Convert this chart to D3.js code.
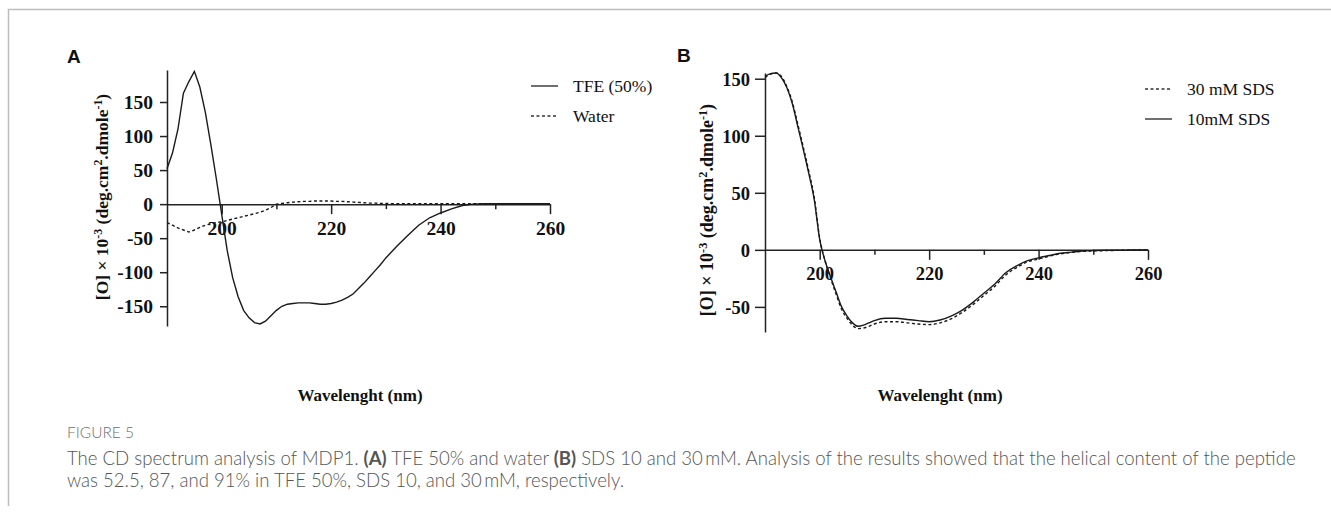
<!DOCTYPE html>
<html>
<head>
<meta charset="utf-8">
<script src="https://cdn.jsdelivr.net/npm/d3@7"></script>
<style>
  body { margin: 0; background: #fff; }
  svg text { fill: #111; }
  .tick text { font-family: "Liberation Serif", "Times New Roman", serif; font-weight: bold; }
  .caption { font-family: Lato, "Open Sans", sans-serif; font-weight: 300; }
</style>
</head>
<body>
<div id="container"></div>
<script>
const WIDTH = 1331,
      HEIGHT = 517;

// panel A : TFE / water
const wlA = [190, 191, 192, 193, 194, 195, 196, 197, 198, 199, 200,
             201, 202, 203, 204, 205, 206, 207, 208, 209, 210,
             211, 212, 213, 214, 215, 216, 217, 218, 219, 220,
             221, 222, 223, 224, 225, 226, 227, 228, 229, 230,
             232, 234, 236, 238, 240, 242, 244, 246, 248, 250, 252, 254, 256, 258, 260];
const tfe = [52, 75, 110, 163, 180, 195, 172, 135, 88, 38, -15,
             -68, -108, -136, -156, -167, -174, -176, -172, -164, -156,
             -150, -147, -146, -145, -145, -145, -146, -147, -147, -146,
             -144, -141, -137, -132, -124, -116, -107, -98, -89, -79,
             -62, -46, -31, -20, -13, -7, -2, 0, 0.5, 0.5, 0.5, 0.5, 0.5, 0.5, 0.5];
const water = [-27, -31, -35, -38, -41, -38, -34, -31, -29, -27, -26,
               -24, -22, -20, -18, -16, -14, -12, -9, -5, 0,
               1, 2, 3, 3.5, 4, 4, 4.5, 4.5, 4.5, 4.5,
               4, 4, 3.5, 3, 2.5, 2, 1.5, 1.5, 1, 1,
               0.5, 0.5, 0.5, 0.5, 0.5, 0.5, 0.5, 0.5, 0.5, 0.5, 0.5, 0.5, 0.5, 0.5, 0.5];

// panel B : SDS
const wlB = [190, 191, 192, 193, 194, 195, 196, 197, 198, 199, 200,
             201, 202, 203, 204, 205, 206, 207, 208, 209, 210,
             212, 214, 216, 218, 220, 222, 224, 226, 228, 230,
             232, 234, 236, 238, 240, 242, 244, 246, 248, 250, 252, 254, 256, 258, 260];
const sds10 = [152, 154.5, 155, 151, 142, 128, 108, 88, 67, 44, 9,
               -10, -24, -37, -50, -58, -64, -67, -66, -64, -62,
               -60, -60, -61, -62, -63, -61.5, -58, -53, -46, -38,
               -30, -20, -14, -9.5, -7, -5, -3, -2, -1, -0.6, -0.4, -0.3, -0.2, 0, 0];
const sds30 = [151, 154, 155, 152, 143, 129.5, 110, 90, 69, 46, 10,
               -10, -25, -39, -52, -60, -66, -69, -68.5, -67, -65,
               -63, -63, -64, -65, -65.5, -64, -60.5, -55, -48, -40,
               -32, -22, -15.5, -10.5, -8, -5.5, -3.5, -2.3, -1.4, -1, -0.7, -0.5, -0.3, -0.2, 0];

const xMajor = [200, 220, 240, 260],
      xMinor = [210, 230, 250];
const yTicksA = [-150, -100, -50, 0, 50, 100, 150],
      yTicksB = [-50, 0, 50, 100, 150];

const svg = d3.select('#container')
    .append('svg')
    .attr("width", WIDTH)
    .attr("height", HEIGHT);

// frame of the figure box
svg.append("path")
    .attr("d", `M8.5,506 L8.5,9.5 L${WIDTH},9.5`)
    .attr("fill", "none")
    .attr("stroke", "#bdbdbd")
    .attr("stroke-width", 1.5);

const panels = [
    {
        letter: "A", letterX: 67, letterY: 63,
        x0: 167, x1: 550, yTop: 70, yBot: 326, yDomain: [-179, 197],
        yTicks: yTicksA, yTick: 7, yPad: 7, font: 19.5,
        labelX: 108, labelY: 197, labelFont: 17.5,
        xLabelX: 360,
        wl: wlA,
        series: [{ name: "TFE (50%)", values: tfe, dash: null },
                 { name: "Water", values: water, dash: "3,2.5" }],
        legendX: 531, legendY: 86, curve: d3.curveLinear
    },
    {
        letter: "B", letterX: 677, letterY: 62,
        x0: 765, x1: 1148, yTop: 73, yBot: 332, yDomain: [-72, 155],
        yTicks: yTicksB, yTick: 10, yPad: 5, font: 18.5,
        labelX: 713, labelY: 210, labelFont: 18,
        xLabelX: 940,
        wl: wlB,
        series: [{ name: "30 mM SDS", values: sds30, dash: "3,2.5" },
                 { name: "10mM SDS", values: sds10, dash: null }],
        legendX: 1145, legendY: 89, curve: d3.curveMonotoneX
    }
];

panels.forEach((p) => {
    const xScale = d3.scaleLinear().domain([190, 260]).range([p.x0, p.x1]);
    const yScale = d3.scaleLinear().domain(p.yDomain).range([p.yBot, p.yTop]);

    const g = svg.append("g");

    // y axis, plain hyphen for negatives like the original
    const yAxis = d3.axisLeft(yScale)
        .tickValues(p.yTicks)
        .tickFormat((d) => String(d))
        .tickSize(p.yTick)
        .tickSizeOuter(0)
        .tickPadding(p.yPad);
    g.append("g")
        .attr("transform", `translate(${p.x0},0)`)
        .call(yAxis)
        .call(a => a.selectAll("text").attr("font-size", p.font).attr("dy", "0.34em"));

    // x axis sits on zero
    const xAxis = d3.axisBottom(xScale)
        .tickValues(xMajor)
        .tickFormat((d) => String(d))
        .tickSize(10)
        .tickSizeOuter(0)
        .tickPadding(7);
    g.append("g")
        .attr("transform", `translate(0,${yScale(0)})`)
        .call(xAxis)
        .call(a => a.selectAll("text").attr("font-size", p.font));

    g.append("g")
        .attr("transform", `translate(0,${yScale(0)})`)
        .call(d3.axisBottom(xScale).tickValues(xMinor).tickSize(5).tickFormat("").tickSizeOuter(0))
        .call(a => a.select(".domain").remove());

    g.selectAll(".domain, .tick line")
        .attr("stroke", "#222")
        .attr("stroke-width", 1.5);

    // curves
    const line = d3.line()
        .x((d) => xScale(d.wl))
        .y((d) => yScale(d.v))
        .curve(p.curve);

    p.series.forEach((s) => {
        const pts = p.wl.map((w, i) => ({ wl: w, v: s.values[i] }));
        g.append("path")
            .datum(pts)
            .attr("fill", "none")
            .attr("stroke", "#1a1a1a")
            .attr("stroke-width", 1.4)
            .attr("stroke-dasharray", s.dash)
            .attr("d", line);
    });

    // legend
    p.series.forEach((s, i) => {
        const ly = p.legendY + i * 30;
        g.append("line")
            .attr("x1", p.legendX).attr("x2", p.legendX + 27)
            .attr("y1", ly).attr("y2", ly)
            .attr("stroke", "#333")
            .attr("stroke-width", 1.4)
            .attr("stroke-dasharray", s.dash);
        g.append("text")
            .attr("x", p.legendX + 42)
            .attr("y", ly + 6)
            .attr("font-family", "Liberation Serif, Times New Roman, serif")
            .attr("font-size", 17.5)
            .attr("fill", "#222")
            .text(s.name);
    });

    // panel letter
    svg.append("text")
        .attr("x", p.letterX).attr("y", p.letterY)
        .attr("font-family", "Liberation Sans, Arial, sans-serif")
        .attr("font-weight", "bold")
        .attr("font-size", 19)
        .text(p.letter);

    // y label with superscripts
    const yl = g.append("text")
        .attr("transform", `translate(${p.labelX},${p.labelY}) rotate(-90)`)
        .attr("text-anchor", "middle")
        .attr("font-family", "Liberation Serif, Times New Roman, serif")
        .attr("font-weight", "bold")
        .attr("font-size", p.labelFont);
    yl.append("tspan").text("[O] × 10");
    yl.append("tspan").attr("dy", -6).attr("font-size", p.labelFont * 0.68).text("-3");
    yl.append("tspan").attr("dy", 6).text(" (deg.cm");
    yl.append("tspan").attr("dy", -6).attr("font-size", p.labelFont * 0.68).text("2");
    yl.append("tspan").attr("dy", 6).text(".dmole");
    yl.append("tspan").attr("dy", -6).attr("font-size", p.labelFont * 0.68).text("-1");
    yl.append("tspan").attr("dy", 6).text(")");

    // x label
    g.append("text")
        .attr("x", p.xLabelX).attr("y", 401)
        .attr("text-anchor", "middle")
        .attr("font-family", "Liberation Serif, Times New Roman, serif")
        .attr("font-weight", "bold")
        .attr("font-size", 17)
        .text("Wavelenght (nm)");
});

// caption
svg.append("text")
    .attr("class", "caption")
    .attr("x", 67).attr("y", 438)
    .attr("font-size", 15.5)
    .attr("font-weight", 400)
    .style("fill", "#707070")
    .text("FIGURE 5");

const cap1 = svg.append("text")
    .attr("class", "caption")
    .attr("x", 67).attr("y", 465)
    .attr("font-size", 17)
    .style("fill", "#555");
cap1.append("tspan").text("The CD spectrum analysis of MDP1. ");
cap1.append("tspan").attr("font-weight", "bold").text("(A)");
cap1.append("tspan").text(" TFE 50% and water ");
cap1.append("tspan").attr("font-weight", "bold").text("(B)");
cap1.append("tspan").text(" SDS 10 and 30\u2009mM. Analysis of the results showed that the helical content of the peptide");

const cap2 = svg.append("text")
    .attr("class", "caption")
    .attr("x", 67).attr("y", 487)
    .attr("font-size", 17)
    .style("fill", "#555")
    .text("was 52.5, 87, and 91% in TFE 50%, SDS 10, and 30\u2009mM, respectively.");

// fit caption width to the box
const w1 = cap1.node().getComputedTextLength();
const fs = 17 * 1230 / w1;
cap1.attr("font-size", fs);
cap2.attr("font-size", fs);
</script>
</body>
</html>
